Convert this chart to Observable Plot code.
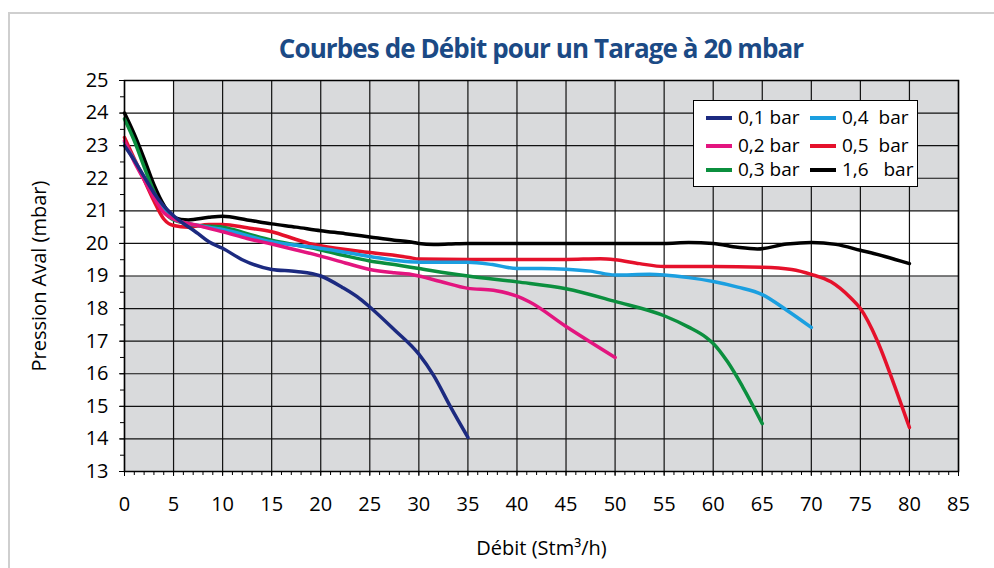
<!DOCTYPE html>
<html><head><meta charset="utf-8">
<script src="https://cdn.jsdelivr.net/npm/d3@7"></script>
<script src="https://cdn.jsdelivr.net/npm/@observablehq/plot@0.6"></script>
<style>
body{margin:0;background:#fff;}
#wrap{position:relative;width:994px;height:568px;overflow:hidden;font-family:"Open Sans",sans-serif;}
#frame{position:absolute;left:8px;top:12px;width:1020px;height:620px;border:2px solid #cfcfcf;box-sizing:border-box;pointer-events:none}
#title{position:absolute;left:0;top:31px;width:1082px;text-align:center;font-family:"Open Sans",sans-serif;font-weight:bold;font-size:26px;letter-spacing:-0.9px;color:#1b4a85;line-height:34px}
#chart{position:absolute;left:0;top:0}
#legend{position:absolute;left:693px;top:100px;width:225px;height:87px;border:1px solid #000;background:#fff;box-sizing:border-box}
.li{position:absolute;font-size:19px;line-height:22px;white-space:pre;color:#000}
.sw{position:absolute;height:4px;width:26px}
</style></head>
<body>
<div id="wrap">
  <div id="chart"></div>
  <div id="title">Courbes de Débit pour un Tarage à 20 mbar</div>
  <div id="legend"></div>
  <div id="frame"></div>
</div>
<script>
// ---- data ----
const seriesNames = ["0,1 bar", "0,2 bar", "0,3 bar", "0,4  bar", "0,5  bar", "1,6   bar"];
const seriesColors = ["#1c2a80", "#e3157f", "#0b8f3e", "#1b9fe0", "#e5112b", "#000000"];

const bar01 = [[0,23.0],[1,22.55],[2,22.05],[3,21.55],[4,21.15],[5,20.85],[7.5,20.3],[8.6,20.05],[10,19.85],[12,19.5],[15,19.2],[17.5,19.14],[20,19.0],[22.2,18.65],[24,18.3],[25,18.05],[27.5,17.35],[30,16.6],[31.5,15.95],[33.2,15.0],[35,14.05]];
const bar02 = [[0,23.15],[1,22.5],[2,21.95],[3,21.4],[4,20.95],[5,20.75],[7.5,20.55],[8.6,20.46],[10,20.36],[12.5,20.15],[15,19.98],[17.5,19.8],[20,19.61],[22.5,19.4],[25,19.2],[27.5,19.1],[29,19.06],[30,19.0],[32.2,18.83],[35,18.62],[37.6,18.56],[40,18.38],[41.3,18.2],[45,17.45],[50,16.5]];
const bar03 = [[0,23.82],[1,23.15],[2,22.35],[3,21.6],[4,21.0],[5,20.72],[7.5,20.55],[10,20.5],[12.5,20.3],[15,20.1],[17.5,19.95],[20,19.8],[22.5,19.62],[25,19.46],[27.5,19.35],[30,19.23],[35,19.0],[40,18.82],[45,18.61],[50,18.22],[55,17.78],[57.5,17.43],[59.3,17.11],[60,16.93],[61.5,16.35],[63,15.6],[65,14.47]];
const bar04 = [[0,23.1],[1,22.55],[2,22.0],[3,21.45],[4,21.0],[5,20.75],[7.5,20.55],[10,20.43],[15,20.05],[20,19.85],[25,19.6],[29,19.44],[31.5,19.42],[35,19.42],[37.5,19.35],[40,19.23],[42.5,19.23],[45,19.21],[47.5,19.15],[50,19.03],[53.5,19.05],[55,19.03],[57.5,18.95],[60,18.83],[62.5,18.66],[65,18.43],[67.5,17.95],[70,17.42]];
const bar05 = [[0,23.25],[1,22.6],[2,21.95],[3,21.3],[4,20.75],[5,20.55],[6.5,20.5],[8.6,20.58],[10,20.58],[12.5,20.48],[15,20.36],[17.5,20.12],[18.8,20.0],[20,19.93],[25,19.72],[29,19.57],[30,19.52],[35,19.51],[40,19.51],[45,19.51],[48.5,19.53],[50,19.5],[52.5,19.38],[55,19.29],[60,19.29],[65,19.27],[68,19.2],[70,19.05],[72,18.82],[74,18.33],[75,18.0],[76.7,17.03],[78.4,15.7],[80,14.35]];
const bar16 = [[0,24.0],[1,23.35],[2,22.6],[3,21.8],[4,21.18],[5,20.8],[6.5,20.72],[8.6,20.8],[10,20.83],[12.5,20.72],[15,20.6],[17.5,20.5],[20,20.39],[22.5,20.3],[25,20.2],[27.5,20.1],[29,20.05],[30,20.0],[31.5,19.97],[33,19.98],[35,20.0],[40,20.0],[45,20.0],[50,20.0],[55,20.0],[57.5,20.03],[60,20.0],[62.5,19.88],[64.5,19.83],[67.5,19.98],[70,20.03],[72.5,19.97],[75,19.79],[77.5,19.6],[80,19.38]];

const xTicks = [0,5,10,15,20,25,30,35,40,45,50,55,60,65,70,75,80,85];
const yTicks = [13,14,15,16,17,18,19,20,21,22,23,24,25];
const xMinor = d3.range(0, 86, 1);
const yMinor = d3.range(13, 25.01, 0.5);
const whiteBands = [{x1:0, x2:5, y1:19, y2:25}, {x1:0, x2:85, y1:19, y2:21}];

const seriesData = [bar01, bar02, bar03, bar04, bar05, bar16];
const drawOrder = [5, 4, 2, 3, 1, 0];

const lineMarks = drawOrder.map(i =>
  Plot.line(seriesData[i], {x: d => d[0], y: d => d[1], stroke: seriesColors[i], strokeWidth: 3.5, curve: "monotone-x"})
);

const chart = Plot.plot({
  width: 994, height: 568,
  marginLeft: 124, marginRight: 36, marginTop: 80, marginBottom: 97,
  x: {domain: [0, 85]},
  y: {domain: [13, 25]},
  style: {fontFamily: "Open Sans", fontSize: "20px", color: "#000", background: "transparent"},
  marks: [
    Plot.frame({fill: "#d9dadc"}),
    Plot.rect(whiteBands, {x1: "x1", x2: "x2", y1: "y1", y2: "y2", fill: "#fff"}),
    Plot.ruleX(xTicks, {stroke: "#111", strokeWidth: 1.2}),
    Plot.ruleY(yTicks, {stroke: "#111", strokeWidth: 1.2}),
    ...lineMarks,
    Plot.frame({stroke: "#000", strokeWidth: 1.5}),
    Plot.axisX(xMinor, {tickSize: 4, tickFormat: () => "", label: null}),
    Plot.axisY(yMinor, {tickSize: 4, tickFormat: () => "", label: null}),
    Plot.axisX(xTicks, {tickSize: 5, tickPadding: 20, label: "Débit (Stm³/h)", labelAnchor: "center", labelOffset: 83, labelArrow: "none"}),
    Plot.axisY(yTicks, {tickSize: 5, tickPadding: 11, label: "Pression Aval (mbar)", labelAnchor: "center", labelOffset: 93, labelArrow: "none"})
  ]
});
document.getElementById("chart").appendChild(chart);

// legend
const legend = document.getElementById("legend");
const legendCols = [12, 116];
const legendRows = [17, 45, 69];
seriesNames.forEach((name, i) => {
  const col = Math.floor(i / 3), row = i % 3;
  const sw = document.createElement("div");
  sw.className = "sw";
  sw.style.background = seriesColors[i];
  sw.style.left = legendCols[col] + "px";
  sw.style.top = (legendRows[row] - 2) + "px";
  legend.appendChild(sw);
  const t = document.createElement("div");
  t.className = "li";
  t.textContent = name;
  t.style.left = (legendCols[col] + 32) + "px";
  t.style.top = (legendRows[row] - 12) + "px";
  legend.appendChild(t);
});
</script>
</body></html>
